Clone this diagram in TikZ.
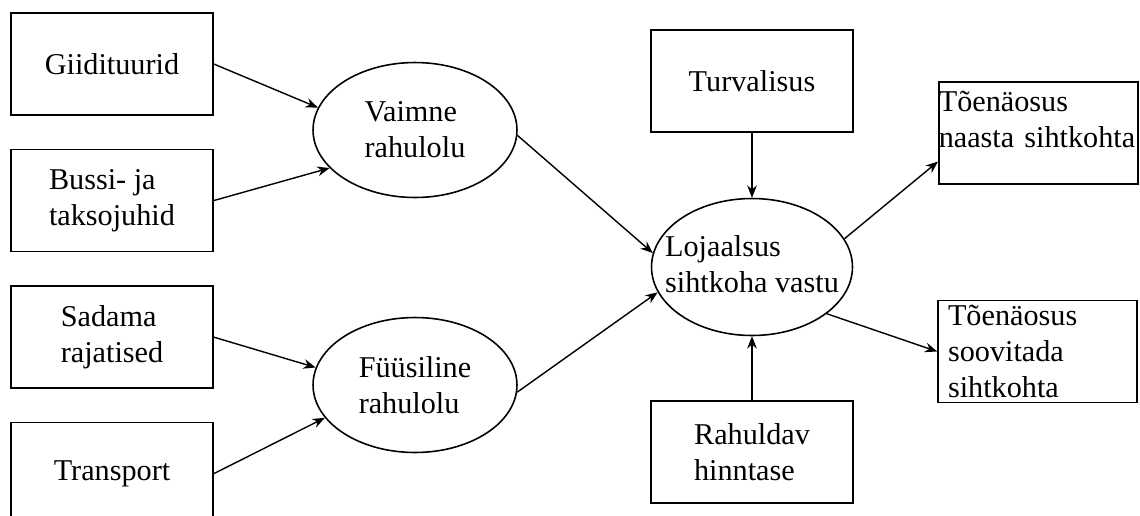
\documentclass[tikz,border=0pt]{standalone}
\usepackage{fontspec}
\setmainfont{Liberation Serif}
\usetikzlibrary{shapes,arrows.meta,positioning,calc}

\tikzset{rect/.style={
    draw,
    rectangle,
    line width=0.9pt,
    minimum width=4.04cm,
    minimum height=2.04cm,
    align=left,
    font=\fontsize{17.2}{20.5}\selectfont,
  }}
\tikzset{oval/.style={
    draw,
    ellipse,
    line width=0.9pt,
    inner sep=0pt,
    minimum width=4.08cm,
    minimum height=2.7cm,
    align=left,
    font=\fontsize{17.2}{20.5}\selectfont,
  }}
\tikzset{conn/.style={-{Stealth[length=7pt,width=5.5pt]}, line width=0.8pt}}

\begin{document}
\begin{tikzpicture}[x=0.02cm, y=-0.02cm, node distance=0.66cm]
        \useasboundingbox (0,0) rectangle (1140,515);
        \clip (0,0) rectangle (1140,515);

        % left column
        \node (giid) [rect] at (112,64) {Giidituurid};
        \node (bussi) [rect, below=of giid] {Bussi- ja\\taksojuhid};
        \node (sadama) [rect, below=of bussi] {Sadama\\rajatised};
        \node (transp) [rect, below=of sadama] {Transport};

        \node (vaimne) [oval] at (415,130) {Vaimne\\rahulolu};
        \node (fyys) [oval] at (415,385) {Füüsiline\\rahulolu};

        \node (loj) [oval, minimum width=4.02cm, minimum height=2.74cm] at (752,267)
        {\makebox[0pt]{\begin{tabular}{@{}l@{}}Lojaalsus\\sihtkoha vastu\end{tabular}}};

        \node (turv) [rect] at (752,81) {Turvalisus};
        \node (rahul) [rect] at (752,452) {Rahuldav\\hinntase};

        % right column
        \node (naasta) [rect, anchor=north west, inner sep=0pt, text width=3.98cm,
        minimum width=3.98cm, text height=16.5pt, text depth=41pt] at (938,81)
        {Tõenäosus\\naasta sihtkohta};
        \node (soov) [rect, inner xsep=0.2cm, inner ysep=0pt, text width=3.58cm,
        minimum width=3.98cm] at (1037.5,351.5) {Tõenäosus\\soovitada\\sihtkohta};

        \draw [conn] (giid.east) -- (vaimne.167);
        \draw [conn] (bussi.east) -- (vaimne.204);
        \draw [conn] (sadama.east) -- (fyys.170);
        \draw [conn] (transp.east) -- (fyys.200);

        \draw [conn] (vaimne.-3) -- (loj.172);
        \draw [conn] (fyys.-4) -- (loj.195);
        \draw [conn] (turv) -- (loj);
        \draw [conn] (rahul) -- (loj);

        \draw [conn] (loj.17) -- (naasta.196);
        \draw [conn] (loj.-32) -- (soov.west);
\end{tikzpicture}
\end{document}
